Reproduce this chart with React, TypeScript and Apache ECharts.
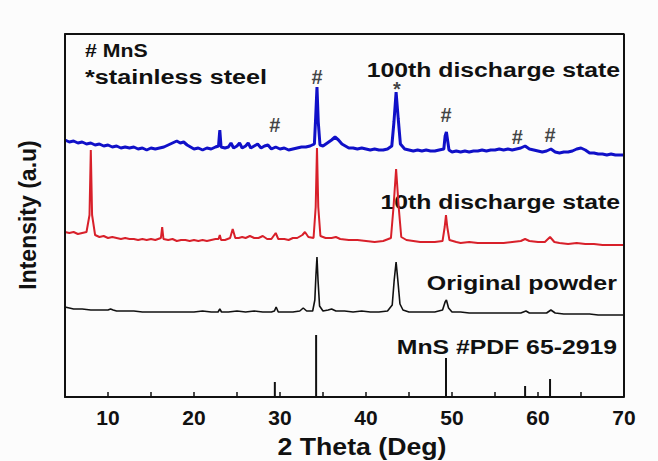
import React, { useEffect, useRef } from "react";
import * as echarts from "echarts";

const discharge100: number[][] = [[5,257],[5.5,255],[6,256],[6.5,254],[7,255],[7.5,253],[8,254],[8.5,252],[9,253],[9.5,251],[10,252],[10.5,250],[11,251],[11.5,249],[12,250],[12.5,249],[13,250],[13.5,248],[14,249],[14.5,247],[15,249],[15.5,248],[16,249],[16.5,250],[17,252],[17.5,254],[18,256],[18.4,254],[18.8,255],[19.2,252],[19.6,250],[20,248],[20.5,249],[21,247],[21.5,249],[22,248],[22.5,250],[22.85,251],[23,267],[23.15,250],[23.6,249],[24,250],[24.3,254],[24.6,249],[25,251],[25.3,254],[25.6,249],[26,251],[26.3,254],[26.6,249],[27,251],[27.4,253],[27.8,249],[28.2,251],[28.6,252],[29,248],[29.5,250],[30,248],[30.5,249],[31,247],[31.5,248],[32,249],[32.5,250],[33,250],[33.5,251],[34.0,253],[34.15,280],[34.3,310],[34.45,275],[34.65,252],[35,251],[35.5,254],[36,257],[36.4,260],[36.8,257],[37.2,253],[37.6,251],[38,249],[38.5,249],[39,248],[39.5,249],[40,248],[40.5,247],[41,248],[41.5,247],[42,247],[42.5,248],[43.0,251],[43.25,275],[43.5,305],[43.75,278],[44.0,253],[44.5,248],[45,247],[45.5,246],[46,247],[46.5,246],[47,247],[47.5,246],[48,246],[48.5,247],[49.05,248],[49.2,261],[49.35,265],[49.5,256],[49.65,247],[50,245],[50.5,246],[51,245],[51.5,246],[52,245],[52.5,246],[53,246],[53.5,247],[54,246],[54.5,247],[55,247],[55.5,248],[56,247],[56.5,248],[57,247],[57.5,248],[58,249],[58.5,251],[59,248],[59.5,247],[60,246],[60.5,245],[61,246],[61.5,248],[62,245],[62.5,244],[63,245],[63.5,245],[64,246],[64.5,248],[65,249],[65.5,247],[66,244],[66.5,244],[67,243],[67.5,243],[68,242],[68.5,243],[69,242],[69.5,242],[70,242]];

const discharge10: number[][] = [[5,165],[5.5,164],[6,165],[6.5,163],[7,164],[7.5,165],[7.85,182],[8,247],[8.15,182],[8.5,162],[9,160],[9.5,161],[10,159],[10.5,160],[11,159],[11.5,158],[12,159],[12.5,158],[13,158],[13.5,157],[14,158],[14.5,157],[15,158],[15.5,157],[16.15,159],[16.3,170],[16.45,158],[17,157],[17.5,158],[18,156],[18.5,157],[19,157],[19.5,156],[20,157],[20.5,156],[21,157],[21.5,156],[22,157],[22.5,158],[22.85,158],[23,162],[23.15,157],[23.6,157],[24.2,159],[24.5,168],[24.8,159],[25.2,159],[25.6,160],[26,159],[26.5,161],[27,159],[27.5,159],[28,161],[28.5,158],[29,158],[29.5,164],[29.8,158],[30.5,158],[31,157],[31.5,159],[32,159],[32.6,162],[32.9,165],[33.3,160],[33.9,159],[34.15,190],[34.3,249],[34.45,190],[34.7,161],[35.3,159],[36,159],[36.5,160],[37,158],[38,157],[39,157],[40,156],[41,155],[42,156],[42.9,159],[43.2,190],[43.5,228],[43.8,190],[44.1,160],[44.7,157],[45.5,156],[46.3,155],[47,155],[48,155],[48.9,156],[49.15,170],[49.3,182],[49.45,170],[49.7,157],[50.5,155],[51,154],[52,155],[53,154],[54,154],[55,154],[56,154],[57,155],[58,156],[58.5,158],[59,156],[60,155],[60.8,155],[61.4,160],[61.9,155],[62.5,154],[63.5,153],[64.5,154],[65.5,153],[66.5,153],[67.5,152],[68.5,152],[69.5,152],[70,152]];

const originalPowder: number[][] = [[5,90],[5.5,89],[6,88],[7,88],[8,87],[9,87],[10,87],[10.3,88],[10.6,87],[11,86],[12,86],[13,86],[14,85],[15,85],[16,85],[17,85],[18,85],[19,85],[20,85],[21,86],[22,85],[22.8,85],[23,88],[23.2,85],[24,85],[25,86],[26,85],[27,86],[28,85],[29,85],[29.35,86],[29.55,90],[29.8,85],[30.5,85],[31.5,85],[32.3,86],[32.7,89],[33.1,86],[33.8,86],[34.05,97],[34.18,122],[34.3,140],[34.42,117],[34.6,91],[35,86],[35.6,87],[36,88],[36.5,86],[37.5,86],[38.5,85],[39.5,86],[40.5,85],[41.5,85],[42.5,86],[43.05,92],[43.28,117],[43.5,135],[43.72,115],[43.95,93],[44.3,87],[45,85],[46,85],[47,85],[48,85],[48.9,87],[49.2,95],[49.35,97],[49.6,89],[50,85],[51,85],[52,84],[53,84],[54,84],[55,84],[56,84],[57,84],[58,84],[58.6,86],[59,84],[60,84],[61,84],[61.5,87],[62,84],[63,83],[64,83],[65,83],[66,83],[67,82],[68,82],[69,82],[70,82]];

const pdfPositions: number[] = [29.4, 34.2, 49.3, 58.5, 61.4];
const pdfHeights: number[] = [15, 62, 39, 11, 18];

const peakMarks: (number | string)[][] = [[34.3, 320, "#"], [29.4, 272, "#"], [43.6, 308, "*"], [49.3, 282, "#"], [57.6, 260, "#"], [61.4, 262, "#"]];

const xTickLabels: number[] = [10, 20, 30, 40, 50, 60, 70];

const X_MIN = 5;
const X_MAX = 70;
const Y_MIN = 0;
const Y_MAX = 363;

const FONT = "'Liberation Sans', Arial, Helvetica, sans-serif";
const AXIS_COLOR = "#111111";

export default function App() {
  const ref = useRef<HTMLDivElement>(null);
  useEffect(() => {
    if (!ref.current) return;
    const chart = echarts.init(ref.current, null, { renderer: "svg" });
    const txt = (text: string, x: number, y: number, align: string, size: number, sx: number) => ({
      type: "text",
      x,
      y,
      scaleX: sx,
      style: {
        text,
        fontFamily: FONT,
        fontWeight: "bold",
        fontSize: size,
        fill: "#111",
        textAlign: align,
        textVerticalAlign: "middle",
      },
    });
    const frame = [[X_MIN, Y_MIN], [X_MIN, Y_MAX], [X_MAX, Y_MAX], [X_MAX, Y_MIN]];
    chart.setOption({
      animation: false,
      backgroundColor: "#fcfcfc",
      grid: { left: 65, right: 34, top: 34, bottom: 64 },
      xAxis: {
        type: "value",
        min: X_MIN,
        max: X_MAX,
        interval: 5,
        axisLine: { show: true, onZero: false, lineStyle: { color: AXIS_COLOR, width: 2 } },
        axisTick: { show: true, inside: true, length: 5, lineStyle: { color: AXIS_COLOR, width: 1.5 } },
        splitLine: { show: false },
        axisLabel: {
          margin: 10,
          fontFamily: FONT,
          fontWeight: "bold",
          fontSize: 21,
          color: "#111",
          formatter: (v: number) => (xTickLabels.indexOf(v) >= 0 ? String(v) : ""),
        },
      },
      yAxis: {
        type: "value",
        min: Y_MIN,
        max: Y_MAX,
        axisLine: { show: true, onZero: false, lineStyle: { color: AXIS_COLOR, width: 2 } },
        axisTick: { show: false },
        axisLabel: { show: false },
        splitLine: { show: false },
      },
      series: [
        {
          type: "line",
          data: frame,
          showSymbol: false,
          clip: false,
          silent: true,
          lineStyle: { color: AXIS_COLOR, width: 2 },
          z: 10,
        },
        { type: "line", data: discharge100, showSymbol: false, lineStyle: { color: "#1010c8", width: 3 }, z: 3 },
        { type: "line", data: discharge10, showSymbol: false, lineStyle: { color: "#d8202a", width: 2 }, z: 2 },
        { type: "line", data: originalPowder, showSymbol: false, lineStyle: { color: "#111111", width: 1.6 }, z: 2 },
        {
          type: "bar",
          data: pdfPositions.map((p, i) => [p, pdfHeights[i]]),
          barWidth: 2,
          itemStyle: { color: "#111111" },
        },
        {
          type: "scatter",
          data: peakMarks,
          symbolSize: 1,
          itemStyle: { color: "rgba(0,0,0,0)" },
          label: {
            show: true,
            position: "inside",
            formatter: (p: any) => p.value[2],
            fontFamily: FONT,
            fontWeight: "bold",
            fontSize: 20,
            color: "#111",
          },
          z: 5,
        },
      ],
      graphic: [
        txt("# MnS", 85, 50, "left", 19, 1.12),
        txt("*stainless steel", 85, 77, "left", 21, 1.2),
        txt("100th discharge state", 620, 70, "right", 21, 1.18),
        txt("10th discharge state", 620, 202, "right", 21, 1.18),
        txt("Original powder", 617, 283, "right", 21, 1.19),
        txt("MnS #PDF 65-2919", 617, 347, "right", 21, 1.18),
        txt("2 Theta (Deg)", 362, 447, "center", 23, 1.16),
        {
          type: "text",
          x: 28,
          y: 215,
          rotation: Math.PI / 2,
          style: {
            text: "Intensity (a.u)",
            fontFamily: FONT,
            fontWeight: "bold",
            fontSize: 23,
            fill: "#111",
            textAlign: "center",
            textVerticalAlign: "middle",
          },
        },
      ],
    });
    return () => chart.dispose();
  }, []);
  return <div ref={ref} style={{ position: "fixed", left: 0, top: 0, width: 658, height: 461 }} />;
}
